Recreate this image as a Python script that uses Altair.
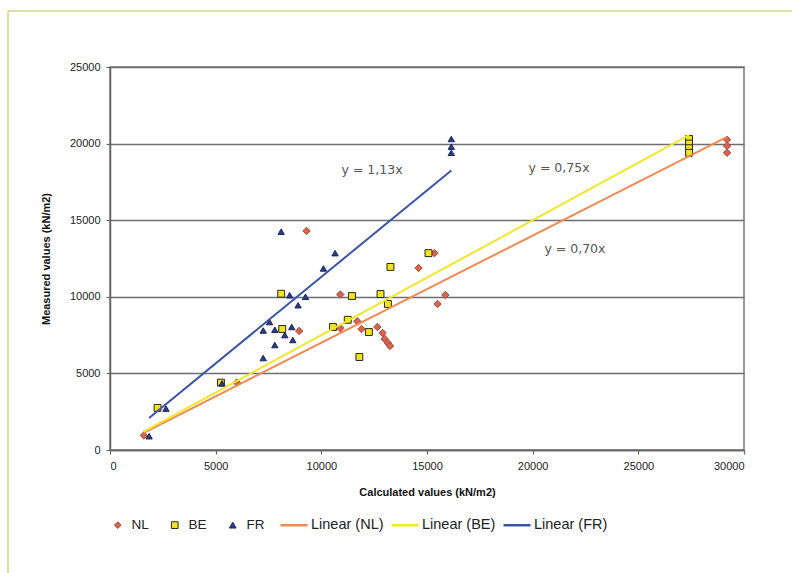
import altair as alt
import pandas as pd

# ---- data ----
series_names = ["NL", "BE", "FR"]

nl_x = [1600, 6000, 8950, 9300, 10900, 10900, 11700, 11900, 12650, 12900, 13000, 13150, 13250,
        14600, 15350, 15500, 15870, 29200, 29200, 29200]
nl_y = [950, 4400, 7770, 14300, 10150, 7950, 8400, 7900, 8030, 7640, 7250, 6980, 6790,
        11880, 12850, 9530, 10120, 20250, 19850, 19400]

be_x = [2250, 5250, 8100, 8150, 10550, 11250, 11450, 11800, 12250, 12800, 13150, 13270, 15070,
        27400, 27400, 27400, 27400]
be_y = [2750, 4400, 10200, 7900, 8030, 8500, 10050, 6070, 7700, 10180, 9530, 11950, 12850,
        20300, 20000, 19700, 19400]

fr_x = [1850, 2650, 5300, 7250, 7250, 7550, 7800, 7800, 8100, 8270, 8500, 8600, 8650, 8900,
        9250, 10100, 10650, 16150, 16150, 16150]
fr_y = [900, 2700, 4350, 7800, 6000, 8350, 7850, 6850, 14250, 7500, 10100, 8030, 7180, 9450,
        10000, 11850, 12850, 20300, 19800, 19400]

trend_names = ["Linear (NL)", "Linear (BE)", "Linear (FR)"]
trend_slopes = [0.70, 0.75, 1.13]
trend_x_start = [1600, 1600, 1850]
trend_x_end = [29200, 27400, 16150]

eq_labels = ["y = 1,13x", "y = 0,75x", "y = 0,70x"]
eq_x = [12400, 21250, 22000]
eq_y = [18300, 18400, 13100]

x_ticks = [0, 5000, 10000, 15000, 20000, 25000, 30000]
y_ticks = [0, 5000, 10000, 15000, 20000, 25000]

# ---- styles ----
point_shapes = ["diamond", "square", "triangle-up"]
point_sizes = [55, 40, 70]
point_fills = ["#d8644e", "#f2e41e", "#2e3b85"]
point_strokes = ["#a84a3a", "#2a2a10", "#1c2660"]
trend_colors = ["#f08a52", "#f0e62a", "#3b55a6"]
FONT = "Liberation Sans"

# ---- tables ----
pts = pd.DataFrame({
    "x": nl_x + be_x + fr_x,
    "y": nl_y + be_y + fr_y,
    "series": ["NL"] * len(nl_x) + ["BE"] * len(be_x) + ["FR"] * len(fr_x),
})
pts["idx"] = range(len(pts))

rows = []
for name, s, x0, x1 in zip(trend_names, trend_slopes, trend_x_start, trend_x_end):
    rows.append({"trend": name, "x": x0, "y": s * x0})
    rows.append({"trend": name, "x": x1, "y": s * x1})
trend = pd.DataFrame(rows)

eqs = pd.DataFrame({"label": eq_labels, "x": eq_x, "y": eq_y})

xs = alt.Scale(domain=[0, 30000], nice=False)
ys = alt.Scale(domain=[0, 25000], nice=False)

x_axis = alt.Axis(title="Calculated values (kN/m2)", values=x_ticks, grid=False, tickSize=4,
                  labelPadding=6, titlePadding=15, format="d")
y_axis = alt.Axis(title="Measured values (kN/m2)", values=y_ticks, grid=True, tickSize=4,
                  labelPadding=6, titlePadding=18, format="d")

point_legend = alt.Legend(title=None, orient="none", legendX=1, legendY=451, direction="horizontal",
                          symbolSize=45, symbolStrokeWidth=1, labelFontSize=13.5, labelFont=FONT,
                          labelColor="#222222", labelOffset=7, columnPadding=19)
line_legend = alt.Legend(title=None, orient="none", legendX=169, legendY=443, direction="horizontal",
                         symbolType="stroke", symbolSize=729, symbolStrokeWidth=2.5,
                         labelFontSize=14.5, labelFont=FONT, labelColor="#222222",
                         labelOffset=2, columnPadding=2)

points = alt.Chart(pts).mark_point(filled=True, strokeWidth=1, opacity=1).encode(
    x=alt.X("x:Q", scale=xs, axis=x_axis),
    y=alt.Y("y:Q", scale=ys, axis=y_axis),
    shape=alt.Shape("series:N", scale=alt.Scale(domain=series_names, range=point_shapes), legend=point_legend),
    fill=alt.Fill("series:N", scale=alt.Scale(domain=series_names, range=point_fills), legend=point_legend),
    stroke=alt.Stroke("series:N", scale=alt.Scale(domain=series_names, range=point_strokes), legend=point_legend),
    size=alt.Size("series:N", scale=alt.Scale(domain=series_names, range=point_sizes), legend=None),
    order=alt.Order("idx:Q"),
)

lines = alt.Chart(trend).mark_line(strokeWidth=2).encode(
    x=alt.X("x:Q", scale=xs),
    y=alt.Y("y:Q", scale=ys),
    color=alt.Color("trend:N", scale=alt.Scale(domain=trend_names, range=trend_colors), legend=line_legend),
)

labels = alt.Chart(eqs).mark_text(font="DejaVu Sans", fontSize=12.5, color="#555555", align="center",
                                  baseline="middle").encode(
    x=alt.X("x:Q", scale=xs),
    y=alt.Y("y:Q", scale=ys),
    text="label:N",
)

# decorative outer frame (top and left edges of the figure box)
frame_df = pd.DataFrame({"k": [0]})
frame_top = alt.Chart(frame_df).mark_rule(color="#cfd882", strokeWidth=1.5).encode(
    x=alt.value(-102), x2=alt.value(682), y=alt.value(-56))
frame_left = alt.Chart(frame_df).mark_rule(color="#cfd882", strokeWidth=1.5).encode(
    x=alt.value(-102), y=alt.value(-56), y2=alt.value(506))

chart = alt.layer(frame_top, frame_left, points, lines, labels).resolve_scale(
    color="independent", fill="independent", stroke="independent", shape="independent"
).properties(
    width=634, height=383,
    padding={"left": 110, "top": 67, "right": 48, "bottom": 123},
    autosize=alt.AutoSizeParams(type="none"),
    background="white",
).configure_view(
    stroke="#7a7a7a", strokeWidth=1.5
).configure_axis(
    labelFont=FONT, labelFontSize=11, labelColor="#222222",
    titleFont=FONT, titleFontSize=11, titleFontWeight="bold", titleColor="#111111",
    domainColor="#666666", domainWidth=1.5, tickColor="#666666", tickWidth=1.2,
    gridColor="#6e6e6e", gridWidth=1.4, gridOpacity=1,
)

chart.save("out.html", embed_options={"renderer": "svg", "actions": False})
